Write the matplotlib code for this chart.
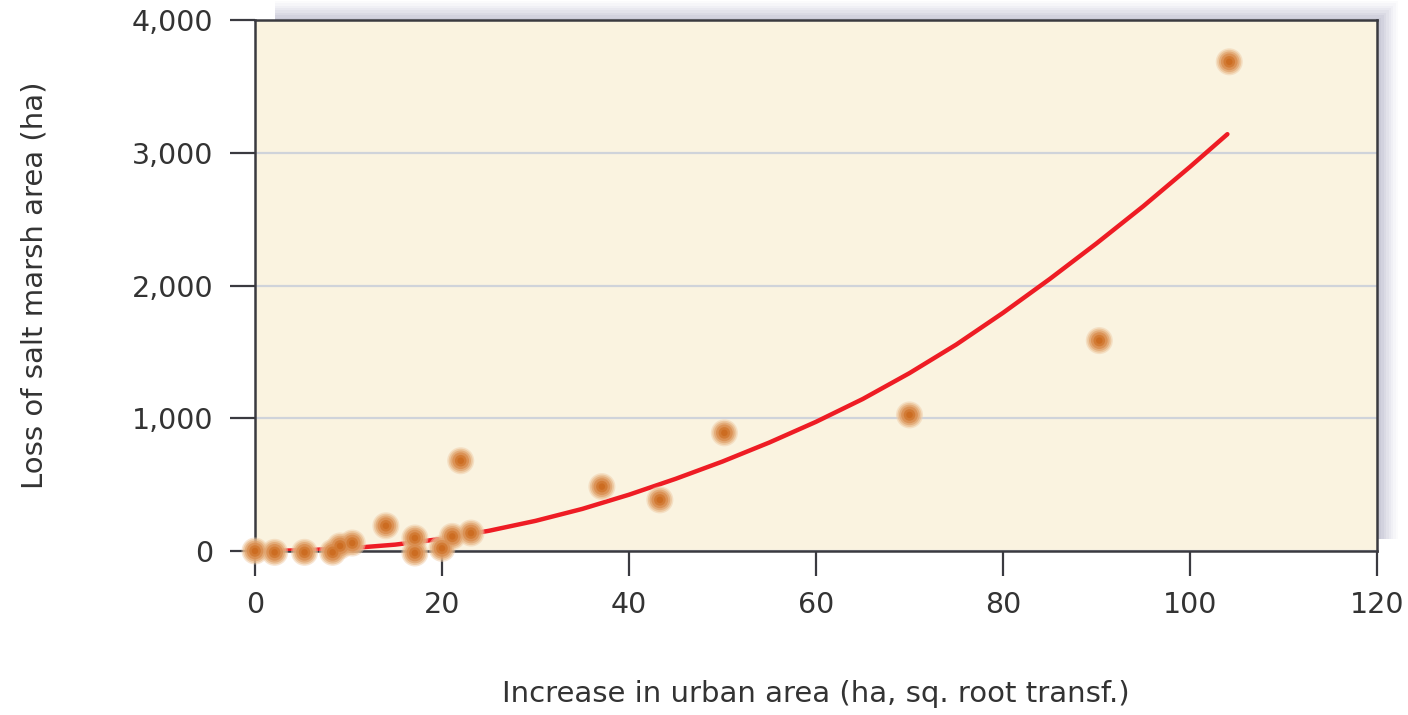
import matplotlib
matplotlib.use("Agg")
import matplotlib.pyplot as plt
from matplotlib.patches import Rectangle

urban_x = [0, 2.1, 5.3, 8.3, 9.1, 10.4, 14.0, 17.1, 17.1, 20.0, 21.1, 22.0, 23.1,
           37.1, 43.3, 50.2, 70.0, 90.3, 104.2]
marsh_y = [0, -10, -10, -10, 38, 60, 190, 98, -15, 20, 110, 680, 135,
           485, 385, 890, 1025, 1585, 3685]

# Fitted curve
fit_x = [0, 5, 10, 15, 20, 25, 30, 35, 40, 45, 50, 55, 60, 65, 70, 75, 80, 85, 90, 95, 100, 104]
fit_y = [0, 5, 20, 48, 92, 152, 227, 317, 424, 544, 674, 817, 973, 1145, 1340, 1555,
         1794, 2049, 2317, 2597, 2894, 3140]

x_ticks = [0, 20, 40, 60, 80, 100, 120]
y_ticks = [0, 1000, 2000, 3000, 4000]
y_tick_labels = ["0", "1,000", "2,000", "3,000", "4,000"]

W, H = 1408, 715
fig = plt.figure(figsize=(W / 100, H / 100), dpi=100)
fig.patch.set_facecolor("white")

left, right, bottom, top = 255 / W, 1377 / W, 1 - 551 / H, 1 - 20 / H

# drop shadow (up and to the right of the plot box)
shadow_steps = 8
for i in range(shadow_steps):
    off = (shadow_steps - i) * 2.4
    a = 0.06 + 0.03 * i
    fig.patches.append(Rectangle((left + 20 / W, bottom + 12 / H),
                                 right - left + off / W - 20 / W + 2 / W,
                                 top - bottom + off / H - 12 / H,
                                 transform=fig.transFigure, facecolor=(0.62, 0.62, 0.72),
                                 edgecolor="none", alpha=a * 0.5, zorder=0))

ax = fig.add_axes([left, bottom, right - left, top - bottom])
ax.set_facecolor("#faf3e0")
ax.set_zorder(2)

ax.set_xlim(0, 120)
ax.set_ylim(0, 4000)

ax.grid(axis="y", color="#cfd3da", linewidth=1.6, zorder=1)
ax.set_axisbelow(True)

# fit curve
ax.plot(fit_x, fit_y, color="#ee1c24", linewidth=3.2, zorder=3,
        solid_capstyle="round", solid_joinstyle="round")

# blurred orange dots built from concentric layers
layers = [
    (380, (0.94, 0.80, 0.66), 0.5),
    (300, (0.91, 0.72, 0.53), 0.6),
    (220, (0.88, 0.63, 0.42), 0.7),
    (145, (0.85, 0.55, 0.30), 0.8),
    (70, (0.82, 0.47, 0.19), 0.85),
    (22, (0.80, 0.42, 0.12), 0.9),
]
for s, c, a in layers:
    ax.scatter(urban_x, marsh_y, s=s, color=c, alpha=a, edgecolors="none",
               zorder=4, clip_on=False)

for sp in ax.spines.values():
    sp.set_color("#3a3a40")
    sp.set_linewidth(1.8)

ax.set_xticks(x_ticks)
ax.set_xticklabels([str(v) for v in x_ticks])
ax.set_yticks(y_ticks)
ax.set_yticklabels(y_tick_labels)
ax.tick_params(axis="both", direction="out", length=18, width=1.6, color="#3a3a40",
               labelsize=20.5, labelcolor="#333333")
ax.tick_params(axis="x", pad=11)
ax.tick_params(axis="y", pad=12)

ax.set_xlabel("Increase in urban area (ha, sq. root transf.)", fontsize=21,
              color="#333333", labelpad=44)
ax.set_ylabel("Loss of salt marsh area (ha)", fontsize=21, color="#333333", labelpad=60)

fig.savefig("out.png", dpi=100, facecolor=fig.get_facecolor())
